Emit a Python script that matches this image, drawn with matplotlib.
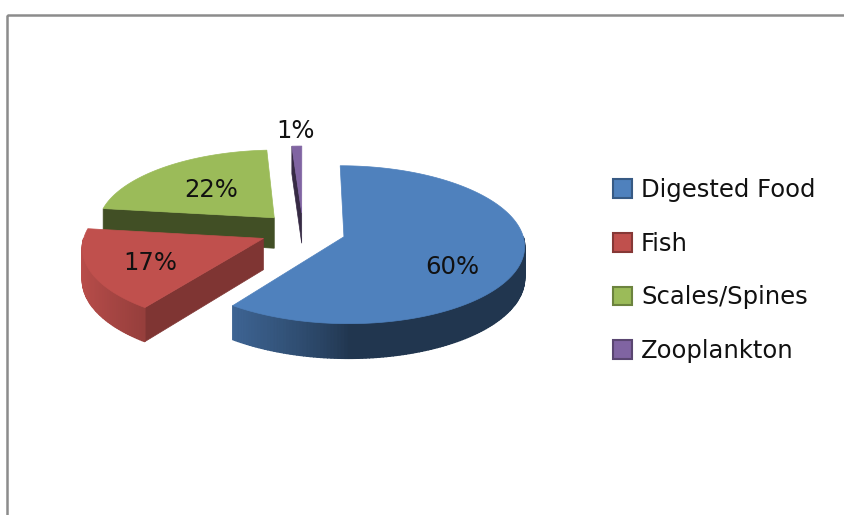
import numpy as np
import matplotlib
matplotlib.use("Agg")
import matplotlib.pyplot as plt
from matplotlib.patches import Polygon, Rectangle, Patch
from matplotlib.colors import to_rgb

# ---- data ----
categories = ["Digested Food", "Fish", "Scales/Spines", "Zooplankton"]
values = [60, 17, 22, 1]
pct_labels = ["60%", "17%", "22%", "1%"]
colors = ["#4F81BD", "#C0504D", "#9BBB59", "#8064A2"]

plt.rcParams["font.family"] = ["DejaVu Sans"]

W, H = 845, 515
fig = plt.figure(figsize=(W / 100, H / 100), dpi=100)
ax = fig.add_axes([0, 0, 1, 1])
ax.set_xlim(0, W)
ax.set_ylim(H, 0)
ax.axis("off")

# chart border
ax.add_patch(Rectangle((7, 15), 900, 600, fill=False, edgecolor="#8c8c8c", lw=1.8))

# ---- 3D pie geometry ----
CX, CY, A, B, D, P, EXPL = 303, 231, 178, 77, 31, 0.1, 0.24


def proj(u, v, z=0.0):
    f = 1.0 / (1.0 + P * v)
    return CX + A * u * f, CY - B * v * f + D * z * f


def shade(c, k):
    return tuple(np.clip(np.array(to_rgb(c)) * k, 0, 1))


total = float(sum(values))
slices = []
cum = 0.0
for i, v in enumerate(values):
    start = 90 - cum / total * 360
    end = start - v / total * 360
    cum += v
    t1, t2 = end, start
    mid = (t1 + t2) / 2
    ex, ey = EXPL * np.cos(np.radians(mid)), EXPL * np.sin(np.radians(mid))
    slices.append(dict(i=i, t1=t1, t2=t2, mid=mid, ex=ex, ey=ey))


def rim(s, th, z=0.0, r=1.0):
    a = np.radians(th)
    return proj(s["ex"] + r * np.cos(a), s["ey"] + r * np.sin(a), z)


def wall_k(th):
    return 0.42 + 0.55 * max(0.0, -np.cos(np.radians(th))) ** 0.8


order = sorted(slices, key=lambda s: -np.sin(np.radians(s["mid"])))
for s in order:
    c = colors[s["i"]]
    t1, t2 = s["t1"], s["t2"]
    apex_t = proj(s["ex"], s["ey"], 0)
    apex_b = proj(s["ex"], s["ey"], 1)
    # radial cut faces
    for th, normal, vis in ((t2, t2 + 90, np.cos(np.radians(t2)) < -1e-6),
                            (t1, t1 - 90, np.cos(np.radians(t1)) > 1e-6)):
        if vis:
            k = 0.42 + 0.3 * max(0.0, np.cos(np.radians(normal)))
            poly = [apex_t, rim(s, th, 0), rim(s, th, 1), apex_b]
            ax.add_patch(Polygon(poly, closed=True, facecolor=shade(c, k),
                                 edgecolor=shade(c, k), lw=0.5))
    # outer wall (front half)
    for kk in (-360, 0, 360):
        lo, hi = max(t1, -180 + kk), min(t2, 0 + kk)
        if hi > lo:
            n = max(2, int(hi - lo) + 1)
            ths = np.linspace(lo, hi, n)
            base = [rim(s, a, 0) for a in ths] + [rim(s, a, 1) for a in ths[::-1]]
            km = wall_k((lo + hi) / 2)
            ax.add_patch(Polygon(base, closed=True, facecolor=shade(c, km),
                                 edgecolor="none"))
            for a0, a1 in zip(ths[:-1], ths[1:]):
                k = wall_k((a0 + a1) / 2)
                poly = [rim(s, a0, 0), rim(s, a1, 0), rim(s, a1, 1), rim(s, a0, 1)]
                ax.add_patch(Polygon(poly, closed=True, facecolor=shade(c, k),
                                     edgecolor=shade(c, k), lw=1.0))
    # top face
    ths = np.linspace(t1, t2, max(3, int(t2 - t1) * 2))
    poly = [apex_t] + [rim(s, th, 0) for th in ths]
    ax.add_patch(Polygon(poly, closed=True, facecolor=c, edgecolor=c, lw=0.5))

# data labels
for s in slices:
    i = s["i"]
    if values[i] / total < 0.05:
        x, y = rim(s, s["mid"], 0, r=1.25)
    else:
        x, y = rim(s, s["mid"] - 6, 0.3, r=0.64)
    ax.text(x, y, pct_labels[i], fontsize=17.5, color="#111111", ha="center", va="center")

# legend
handles = [Patch(facecolor=c, edgecolor=shade(c, 0.7), linewidth=1.5) for c in colors]
ax.legend(handles, categories, loc="upper left", bbox_to_anchor=(613 / W, 1 - 178 / H),
          frameon=False, fontsize=17.5, handlelength=0.8, handleheight=0.8,
          handletextpad=0.35, labelspacing=1.22, borderpad=0, borderaxespad=0,
          labelcolor="#111111")

fig.savefig("out.png", dpi=100)
